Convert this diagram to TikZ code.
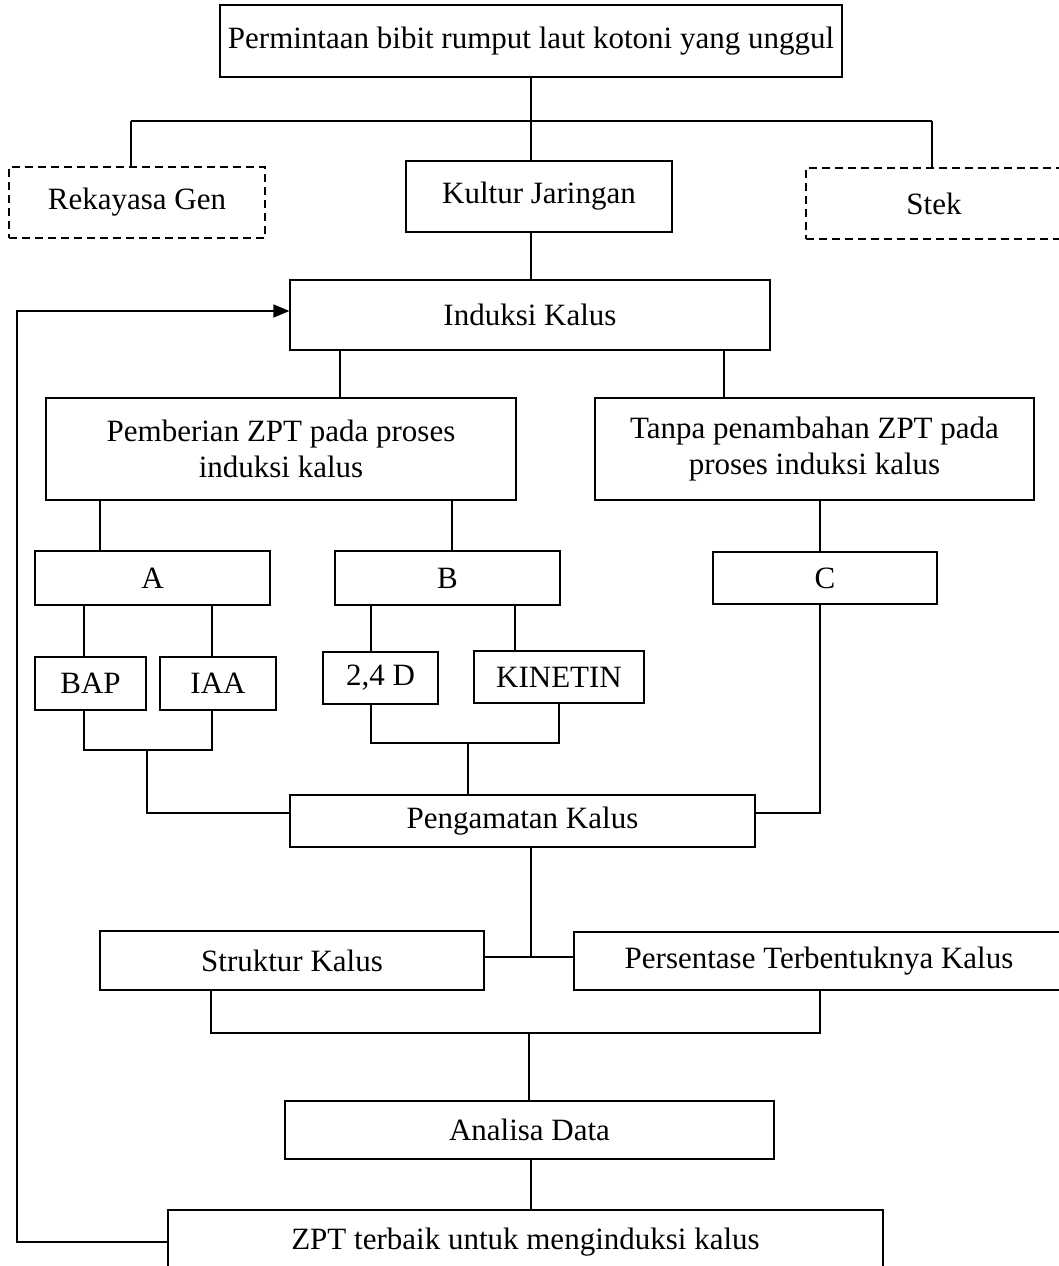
\documentclass[tikz,border=0pt]{standalone}
\usepackage{fontspec}
\setmainfont{Liberation Serif}
\usetikzlibrary{arrows.meta}
\tikzset{
  box/.style={draw, line width=1.2pt, inner sep=0pt, align=center,
    font=\fontsize{31}{36}\selectfont},
  dbox/.style={box, dash pattern=on 8pt off 5pt},
  conn/.style={line width=1.5pt},
}
\begin{document}
\begin{tikzpicture}[x=1pt,y=-1pt]
\clip (0,0) rectangle (1059,1266);
\fill[white] (0,0) rectangle (1059,1266);
% boxes
\node[box, minimum width=622pt, minimum height=72pt] (top) at (531,41) {Permintaan bibit rumput laut kotoni yang unggul};
\node[dbox, minimum width=256pt, minimum height=71pt] (rek) at (137,202.5) {Rekayasa Gen};
\node[box, minimum width=266pt, minimum height=71pt] (kul) at (539,196.5) {Kultur Jaringan};
\node[dbox, minimum width=256pt, minimum height=71pt] (stek) at (934,203.5) {Stek};
\node[box, minimum width=480pt, minimum height=70pt] (ind) at (530,315) {Induksi Kalus};
\node[box, minimum width=470pt, minimum height=102pt] (pem) at (281,449) {Pemberian ZPT pada proses\\induksi kalus};
\node[box, minimum width=439pt, minimum height=102pt] (tan) at (814.5,449) {Tanpa penambahan ZPT pada\\proses induksi kalus};
\node[box, minimum width=235pt, minimum height=54pt] (A) at (152.5,578) {A};
\node[box, minimum width=225pt, minimum height=54pt] (B) at (447.5,578) {B};
\node[box, minimum width=224pt, minimum height=52pt] (C) at (825,578) {C};
\node[box, minimum width=111pt, minimum height=53pt] (bap) at (90.5,683.5) {BAP};
\node[box, minimum width=116pt, minimum height=53pt] (iaa) at (218,683.5) {IAA};
\node[box, minimum width=115pt, minimum height=52pt] (dd) at (380.5,678) {2,4 D};
\node[box, minimum width=170pt, minimum height=52pt] (kin) at (559,677) {KINETIN};
\node[box, minimum width=465pt, minimum height=52pt] (pen) at (522.5,821) {Pengamatan Kalus};
\node[box, minimum width=384pt, minimum height=59pt] (str) at (292,960.5) {Struktur Kalus};
\node[box, minimum width=490pt, minimum height=58pt] (per) at (819,961) {Persentase Terbentuknya Kalus};
\node[box, minimum width=489pt, minimum height=58pt] (ana) at (529.5,1130) {Analisa Data};
\node[box, minimum width=715pt, minimum height=64pt] (zpt) at (525.5,1242) {ZPT terbaik untuk menginduksi kalus};
% helper coordinates
\coordinate (hL) at (131,121);
\coordinate (hM) at (531,121);
\coordinate (hR) at (932,121);
\coordinate (x340) at (340,0);
\coordinate (x724) at (724,0);
\coordinate (x100) at (100,0);
\coordinate (x452) at (452,0);
\coordinate (x820) at (820,0);
\coordinate (x84) at (84,0);
\coordinate (x212) at (212,0);
\coordinate (x371) at (371,0);
\coordinate (x515) at (515,0);
\coordinate (bA1) at (84,750);
\coordinate (bA2) at (212,750);
\coordinate (bAm) at (147,750);
\coordinate (bAc) at (147,813);
\coordinate (bB1) at (371,743);
\coordinate (bB2) at (559,743);
\coordinate (bBm) at (468,743);
\coordinate (cC) at (820,813);
\coordinate (jS) at (531,957);
\coordinate (bS1) at (211,1033);
\coordinate (bS2) at (820,1033);
\coordinate (bSm) at (529,1033);
\coordinate (fb1) at (17,1242);
\coordinate (fb2) at (17,311);
% connectors
\draw[conn] (top.south -| hM) -- (hM);
\draw[conn] (hL) -- (hR);
\draw[conn] (hL) -- (hL |- rek.north);
\draw[conn] (hM) -- (hM |- kul.north);
\draw[conn] (hR) -- (hR |- stek.north);
\draw[conn] (kul.south -| hM) -- (ind.north -| hM);
\draw[conn] (ind.south -| x340) -- (pem.north -| x340);
\draw[conn] (ind.south -| x724) -- (tan.north -| x724);
\draw[conn] (pem.south -| x100) -- (A.north -| x100);
\draw[conn] (pem.south -| x452) -- (B.north -| x452);
\draw[conn] (tan.south -| x820) -- (C.north -| x820);
\draw[conn] (A.south -| x84) -- (bap.north -| x84);
\draw[conn] (A.south -| x212) -- (iaa.north -| x212);
\draw[conn] (B.south -| x371) -- (dd.north -| x371);
\draw[conn] (B.south -| x515) -- (kin.north -| x515);
\draw[conn] (bap.south -| bA1) -- (bA1) -- (bA2) -- (iaa.south -| bA2);
\draw[conn] (bAm) -- (bAc) -- (pen.west |- bAc);
\draw[conn] (dd.south -| bB1) -- (bB1) -- (bB2) -- (kin.south -| bB2);
\draw[conn] (bBm) -- (pen.north -| bBm);
\draw[conn] (C.south -| cC) -- (cC) -- (pen.east |- cC);
\draw[conn] (pen.south -| jS) -- (jS);
\draw[conn] (str.east |- jS) -- (per.west |- jS);
\draw[conn] (str.south -| bS1) -- (bS1) -- (bS2) -- (per.south -| bS2);
\draw[conn] (bSm) -- (ana.north -| bSm);
\draw[conn] (ana.south -| hM) -- (zpt.north -| hM);
\draw[conn, -{Triangle[length=16pt,width=13pt]}] (zpt.west |- fb1) -- (fb1) -- (fb2) -- (ind.west |- fb2);
\end{tikzpicture}
\end{document}
